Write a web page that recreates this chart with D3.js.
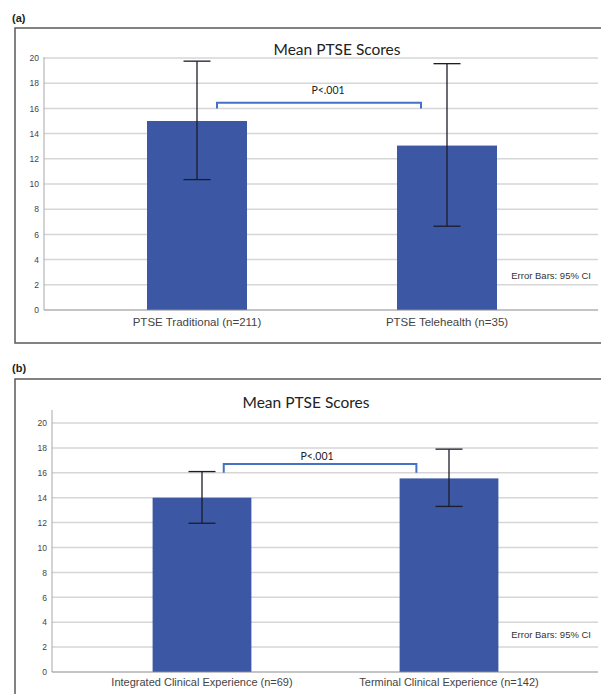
<!DOCTYPE html>
<html>
<head>
<meta charset="utf-8">
<script src="https://cdn.jsdelivr.net/npm/d3@7"></script>
<style>
body { margin: 0; background: #fff; }
svg { display: block; }
</style>
</head>
<body>
<div id="chart"></div>
<script>
// values
var panelLabels = ["(a)", "(b)"];
var chartTitle = "Mean PTSE Scores";
var pText = "P<.001";
var noteText = "Error Bars: 95% CI";
var yTicks = [0, 2, 4, 6, 8, 10, 12, 14, 16, 18, 20];

var catsA = ["PTSE Traditional (n=211)", "PTSE Telehealth (n=35)"];
var meansA = [15.0, 13.05];
var lowA = [10.35, 6.65];
var highA = [19.75, 19.55];
var bracketA = [16.0, 16.45];

var catsB = ["Integrated Clinical Experience (n=69)", "Terminal Clinical Experience (n=142)"];
var meansB = [14.0, 15.55];
var lowB = [11.95, 13.3];
var highB = [16.1, 17.9];
var bracketB = [16.0, 16.7];

var w = 601;
var h = 694;

var barColor = "#3c58a4";
var errColor = "#1c1c2a";
var gridColor = "#d6d6d6";
var bracketColor = "#4472c4";

var svg = d3.select("#chart").append("svg").attr("width", w).attr("height", h);

var panels = [
	{ label: panelLabels[0], cats: catsA, means: meansA, low: lowA, high: highA, bracket: bracketA,
	  labelY: 22, frameTop: 28, frameBottom: 343, titleX: 337, titleY: 55,
	  axisX: 44, axisTop: 57, y0: 310, y20: 58, band: [72, 572], gridRight: 598,
	  pX: 328, pY: 94, noteY: 279, tickPad: 8, xFont: 11.5, bl: 0.2, br: 0.26 },
	{ label: panelLabels[1], cats: catsB, means: meansB, low: lowB, high: highB, bracket: bracketB,
	  labelY: 372, frameTop: 379, frameBottom: 720, titleX: 306, titleY: 408,
	  axisX: 52, axisTop: 410, y0: 672, y20: 423, band: [78.5, 572.5], gridRight: 598,
	  pX: 317, pY: 460, noteY: 638, tickPad: 6, xFont: 11, bl: 0.22, br: 0.33 }
];

panels.forEach(function(p) {
	var g = svg.append("g");

	g.append("text")
		.attr("x", 12)
		.attr("y", p.labelY)
		.attr("font-family", "Liberation Sans, Arial, sans-serif")
		.attr("font-weight", "bold")
		.attr("font-size", 11)
		.attr("fill", "#222")
		.text(p.label);

	g.append("rect")
		.attr("x", 15)
		.attr("y", p.frameTop)
		.attr("width", w + 20)
		.attr("height", p.frameBottom - p.frameTop)
		.attr("fill", "none")
		.attr("stroke", "#5a5a5a")
		.attr("stroke-width", 1.5);

	var yScale = d3.scaleLinear()
		.domain([0, 20])
		.range([p.y0, p.y20]);

	var xScale = d3.scaleBand()
		.domain(p.cats)
		.range(p.band)
		.paddingInner(0.6)
		.paddingOuter(0.3);

	// gridlines
	g.selectAll(".grid")
		.data(yTicks.filter(function(d) { return d > 0; }))
		.enter()
		.append("line")
		.attr("x1", p.axisX)
		.attr("x2", p.gridRight)
		.attr("y1", function(d) { return yScale(d); })
		.attr("y2", function(d) { return yScale(d); })
		.attr("stroke", gridColor)
		.attr("stroke-width", 1.5);

	g.append("text")
		.attr("x", p.titleX)
		.attr("y", p.titleY)
		.attr("text-anchor", "middle")
		.attr("font-family", "Lato, sans-serif")
		.attr("font-size", 15.5)
		.attr("fill", "#222")
		.text(chartTitle);

	// bars
	g.selectAll(".bar")
		.data(p.means)
		.enter()
		.append("rect")
		.attr("x", function(d, i) { return xScale(p.cats[i]); })
		.attr("y", function(d) { return yScale(d); })
		.attr("width", xScale.bandwidth())
		.attr("height", function(d) { return yScale(0) - yScale(d); })
		.attr("fill", barColor);

	// error bars
	var capHalf = 13.5;
	p.cats.forEach(function(c, i) {
		var cx = xScale(c) + xScale.bandwidth() / 2;
		g.append("line")
			.attr("x1", cx).attr("x2", cx)
			.attr("y1", yScale(p.low[i])).attr("y2", yScale(p.high[i]))
			.attr("stroke", errColor).attr("stroke-width", 1.3);
		[p.low[i], p.high[i]].forEach(function(v) {
			g.append("line")
				.attr("x1", cx - capHalf).attr("x2", cx + capHalf)
				.attr("y1", yScale(v)).attr("y2", yScale(v))
				.attr("stroke", errColor).attr("stroke-width", 1.3);
		});
	});

	// significance bracket
	var bw = xScale.bandwidth();
	var bx1 = xScale(p.cats[0]) + bw / 2 + p.bl * bw;
	var bx2 = xScale(p.cats[1]) + bw / 2 - p.br * bw;
	g.append("path")
		.attr("d", "M" + bx1 + "," + yScale(p.bracket[0]) +
			"V" + yScale(p.bracket[1]) +
			"H" + bx2 +
			"V" + yScale(p.bracket[0]))
		.attr("fill", "none")
		.attr("stroke", bracketColor)
		.attr("stroke-width", 2);

	g.append("text")
		.attr("x", p.pX)
		.attr("y", p.pY)
		.attr("text-anchor", "middle")
		.attr("font-family", "Lato, sans-serif")
		.attr("font-size", 10.5)
		.attr("fill", "#222")
		.text(pText);

	// y axis
	var yAxis = d3.axisLeft(yScale)
		.tickValues(yTicks)
		.tickSize(0)
		.tickPadding(5);
	var ya = g.append("g")
		.attr("transform", "translate(" + p.axisX + ",0)")
		.call(yAxis);
	ya.select(".domain").remove();
	ya.selectAll("text")
		.attr("font-family", "Liberation Sans, Arial, sans-serif")
		.attr("font-size", 8.5)
		.attr("fill", "#444");
	g.append("line")
		.attr("x1", p.axisX).attr("x2", p.axisX)
		.attr("y1", p.axisTop).attr("y2", p.y0)
		.attr("stroke", "#a8a8a8").attr("stroke-width", 1);

	// x axis
	var xAxis = d3.axisBottom(xScale)
		.tickSize(0)
		.tickPadding(p.tickPad);
	var xa = g.append("g")
		.attr("transform", "translate(0," + p.y0 + ")")
		.call(xAxis);
	xa.select(".domain").remove();
	xa.selectAll("text")
		.attr("font-family", "Liberation Sans, Arial, sans-serif")
		.attr("font-size", p.xFont)
		.attr("fill", "#444");
	g.append("line")
		.attr("x1", p.axisX).attr("x2", p.gridRight)
		.attr("y1", p.y0).attr("y2", p.y0)
		.attr("stroke", "#8a8a8a").attr("stroke-width", 1.2);

	g.append("text")
		.attr("x", 591)
		.attr("y", p.noteY)
		.attr("text-anchor", "end")
		.attr("font-family", "Liberation Sans, Arial, sans-serif")
		.attr("font-size", 9.5)
		.attr("fill", "#333")
		.text(noteText);
});
</script>
</body>
</html>
